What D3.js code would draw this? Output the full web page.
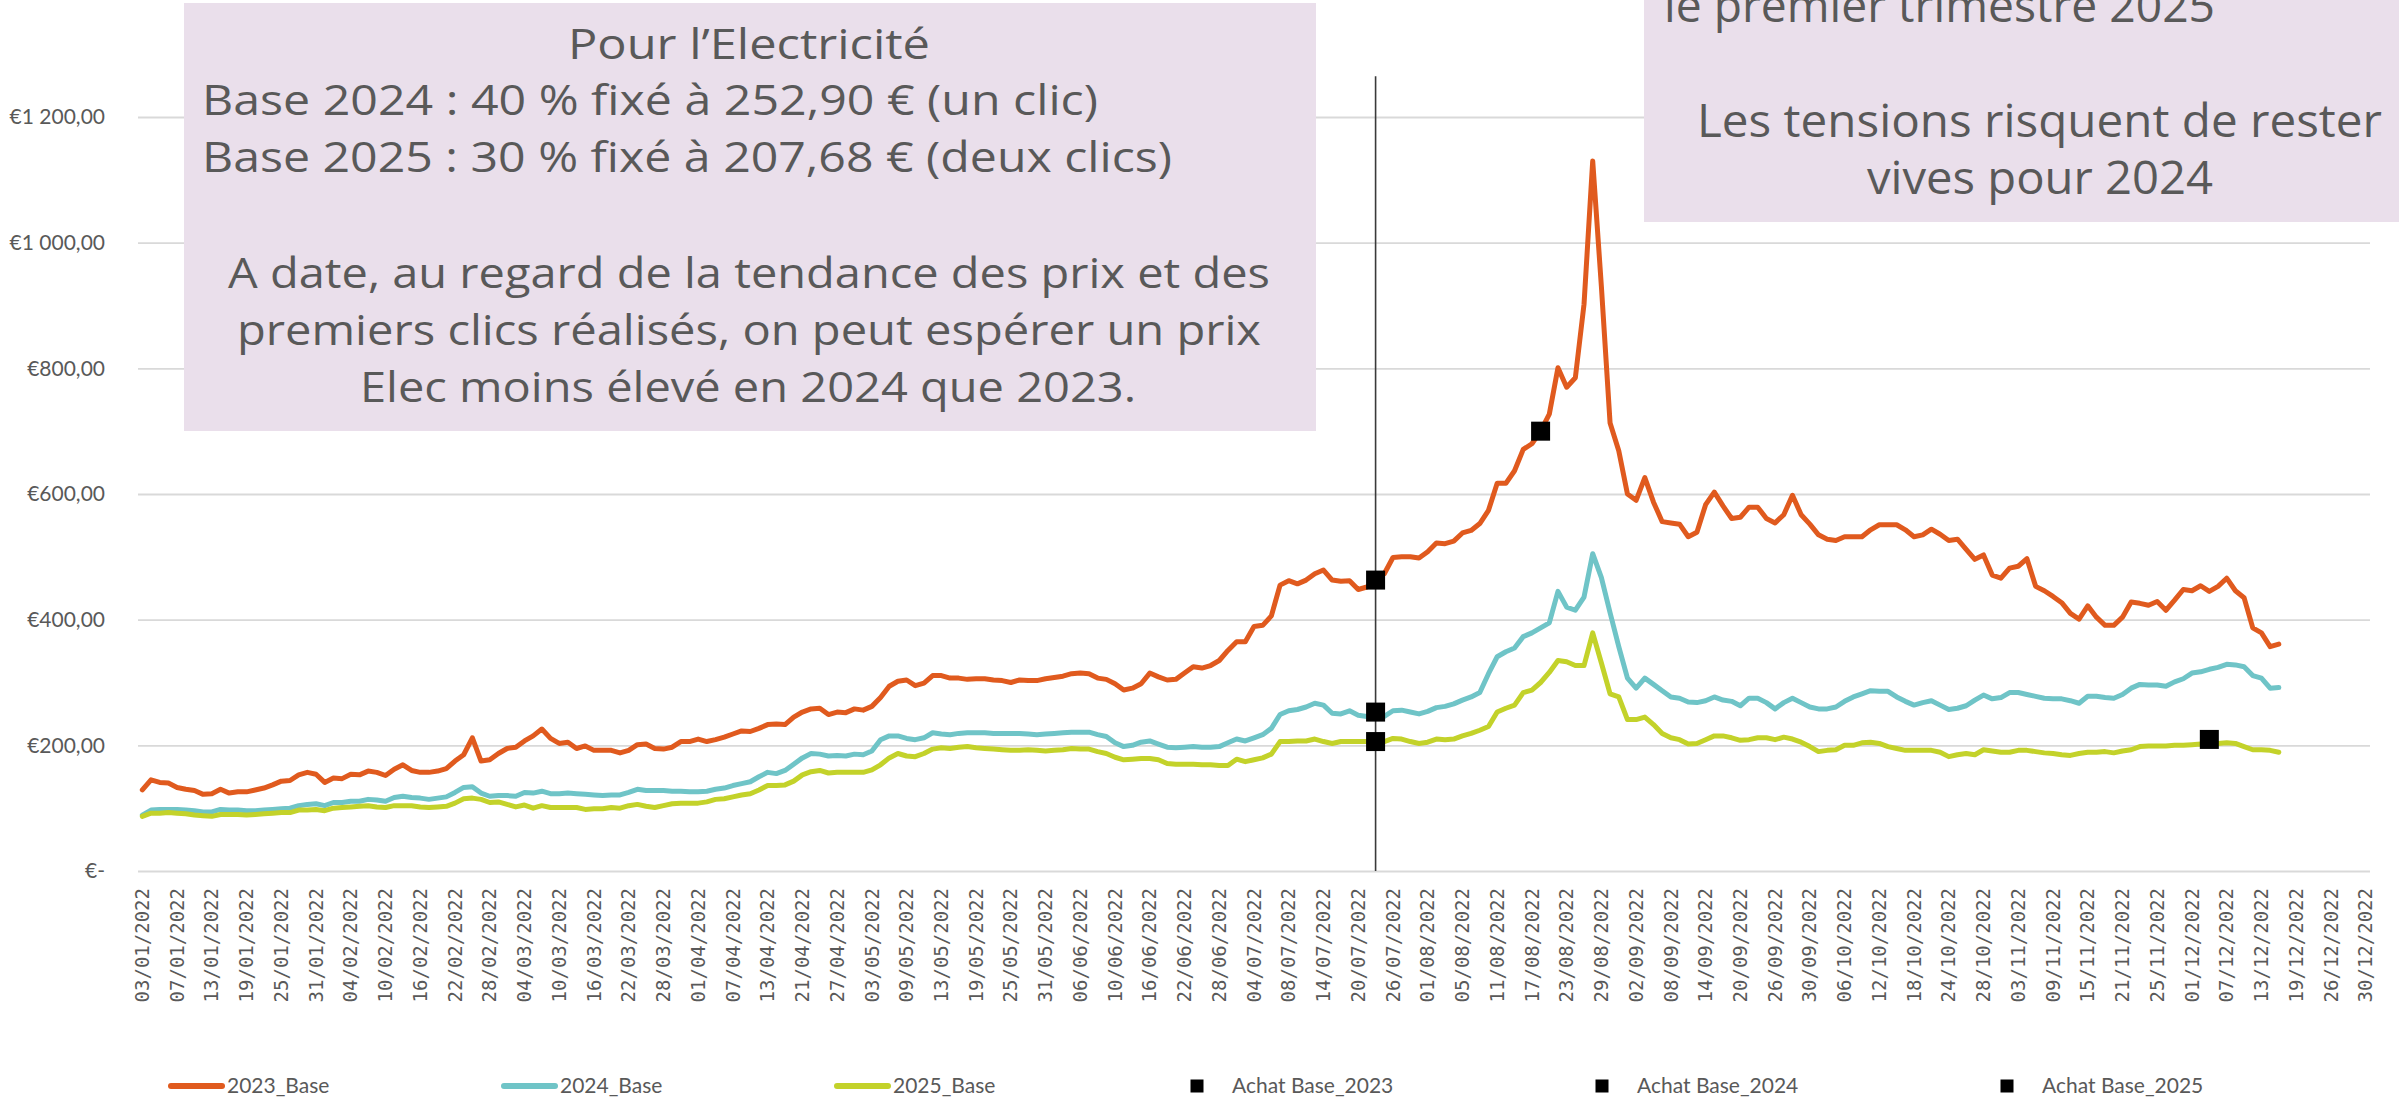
<!DOCTYPE html>
<html>
<head>
<meta charset="utf-8">
<script src="https://cdn.jsdelivr.net/npm/d3@7"></script>
<style>
  body { margin: 0; background: #fff; }
</style>
</head>
<body>
<div id="my_dataviz"></div>
<script>
/* global d3 */

// x axis: one category per trading day, a label every 4th one
const nCategories = 257;
const tickLabels = ["03/01/2022","07/01/2022","13/01/2022","19/01/2022","25/01/2022","31/01/2022","04/02/2022","10/02/2022","16/02/2022","22/02/2022","28/02/2022","04/03/2022","10/03/2022","16/03/2022","22/03/2022","28/03/2022","01/04/2022","07/04/2022","13/04/2022","21/04/2022","27/04/2022","03/05/2022","09/05/2022","13/05/2022","19/05/2022","25/05/2022","31/05/2022","06/06/2022","10/06/2022","16/06/2022","22/06/2022","28/06/2022","04/07/2022","08/07/2022","14/07/2022","20/07/2022","26/07/2022","01/08/2022","05/08/2022","11/08/2022","17/08/2022","23/08/2022","29/08/2022","02/09/2022","08/09/2022","14/09/2022","20/09/2022","26/09/2022","30/09/2022","06/10/2022","12/10/2022","18/10/2022","24/10/2022","28/10/2022","03/11/2022","09/11/2022","15/11/2022","21/11/2022","25/11/2022","01/12/2022","07/12/2022","13/12/2022","19/12/2022","26/12/2022","30/12/2022"];

// prices (€/MWh)
const base2023 = [129,145,141,140,133,130,128,122,123,130,124,126,126,129,132,137,143,144,153,157,154,141,148,147,154,153,159,157,152,162,169,160,157,157,159,163,175,185,212,175,177,187,195,197,207,215,226,211,203,205,195,199,192,192,
  192,188,192,201,202,195,194,197,206,206,210,206,209,213,218,223,222,227,233,234,233,245,253,258,259,249,253,252,258,256,262,276,294,302,304,295,299,311,311,307,307,305,306,306,304,303,300,304,303,303,306,308,310,314,315,
  314,307,305,298,288,291,298,315,309,304,305,315,325,323,327,335,351,365,365,389,391,406,455,462,457,463,473,479,463,461,462,448,452,463,473,499,500,500,498,508,522,521,525,538,542,553,574,
  617,617,637,671,680,700,727,801,770,785,902,1130,930,713,669,600,590,626,587,556,554,552,532,539,583,603,581,561,563,579,579,561,554,567,598,567,552,535,528,526,532,532,532,543,551,551,551,543,532,
  535,544,536,526,528,512,496,503,471,466,482,485,497,453,446,437,427,410,401,422,404,391,391,404,428,426,423,429,415,431,448,446,454,445,453,466,446,435,387,379,357,361];

const base2024 = [89,97,98,98,98,97,96,94,94,98,97,97,96,96,97,98,99,100,104,106,107,104,109,109,111,111,114,113,111,117,119,117,116,114,116,118,125,133,134,124,119,120,120,119,125,124,127,123,123,124,123,122,121,120,
  121,121,125,130,128,128,128,127,127,126,126,127,130,132,136,139,142,150,157,155,160,170,180,187,186,183,184,183,186,185,191,209,215,215,211,209,212,220,218,217,219,220,220,220,219,219,219,219,218,217,218,219,220,221,221,
  221,217,214,204,198,200,205,207,202,197,196,197,198,197,197,198,204,210,207,212,217,227,249,255,257,261,267,264,251,250,255,248,246,253,246,255,256,253,250,254,260,262,266,272,277,284,314,
  341,349,355,373,379,387,395,445,420,415,436,505,467,411,357,307,291,307,297,287,277,275,269,268,271,277,272,270,263,275,275,268,258,268,275,268,261,258,258,261,270,277,282,287,286,286,277,270,264,
  268,271,264,257,259,263,272,280,274,276,284,284,281,278,275,274,274,271,267,278,278,276,275,281,291,297,296,296,294,301,306,315,317,321,324,329,328,325,311,307,291,292];

const base2025 = [87,92,92,93,92,91,89,88,87,90,90,90,89,90,91,92,93,93,97,97,98,96,100,101,102,103,104,102,101,104,104,104,102,101,102,103,108,115,116,114,109,110,106,102,105,100,104,101,101,101,101,98,99,99,
  101,100,104,106,103,101,104,107,108,108,108,110,114,115,118,121,123,129,136,136,137,143,153,158,160,156,157,157,157,157,161,169,180,187,183,182,187,194,196,195,197,198,196,195,194,193,192,192,193,192,191,192,193,195,194,
  194,190,187,181,177,178,179,179,177,171,170,170,170,169,169,168,168,178,174,177,180,186,206,206,207,207,210,206,203,206,206,206,206,207,206,211,210,206,203,205,210,209,210,215,219,224,230,
  253,259,264,284,288,300,316,335,333,327,327,379,331,282,277,241,241,245,233,219,212,209,202,203,209,215,215,212,208,209,212,212,209,213,210,205,198,190,192,193,200,200,204,205,203,198,195,192,192,
  192,192,189,182,185,187,185,193,191,189,189,192,192,190,188,187,185,184,187,189,189,190,188,191,193,198,199,199,199,200,200,201,202,201,203,204,203,198,193,193,192,189];

// purchases ("clics"): [category index, price]
const achat2023 = [[142, 463], [161, 700]];
const achat2024 = [[142, 252.9]];
const achat2025 = [[142, 206], [238, 209.4]];

// day of the first clic, drawn as a vertical rule
const clicDay = 142;
const clicRuleTop = 1265;

const yTicks = [0, 200, 400, 600, 800, 1000, 1200];

const seriesNames = ["2023_Base", "2024_Base", "2025_Base"];
const achatNames = ["Achat Base_2023", "Achat Base_2024", "Achat Base_2025"];
const colors = ["#E05A1E", "#6FC4C7", "#C3D22A"];

const leftNote = ["Pour l’Electricité",
  "Base 2024 : 40 % fixé à 252,90 € (un clic)",
  "Base 2025 : 30 % fixé à 207,68 € (deux clics)",
  "A date, au regard de la tendance des prix et des",
  "premiers clics réalisés, on peut espérer un prix",
  "Elec moins élevé en 2024 que 2023."];
const rightNote = ["le premier trimestre 2025",
  "Les tensions risquent de rester",
  "vives pour 2024"];

// set the dimensions and margins of the graph
const W = 2399, H = 1097;
const margin = {top: 117, right: 29, bottom: 226, left: 138},
    width = W - margin.left - margin.right,
    height = H - margin.top - margin.bottom;

const root = d3.select("#my_dataviz")
  .append("svg")
    .attr("width", W)
    .attr("height", H)
    .style("display", "block")
    .style("background", "#fff");

const svg = root.append("g")
    .attr("transform", `translate(${margin.left}, ${margin.top})`);

const x = d3.scaleBand()
  .domain(d3.range(nCategories))
  .range([0, width]);
const cx = i => x(i) + x.bandwidth() / 2;

const y = d3.scaleLinear()
  .domain([0, 1200])
  .range([height, 0]);

const euro = d3.formatLocale({decimal: ",", thousands: " ", grouping: [3], currency: ["€", ""]}).format("$,.2f");

// Y axis + gridlines
const yAxis = svg.append("g")
  .call(d3.axisLeft(y)
    .tickValues(yTicks)
    .tickSize(-width)
    .tickPadding(33)
    .tickFormat(d => d === 0 ? "€-" : euro(d)));
yAxis.select(".domain").remove();
yAxis.selectAll(".tick line")
  .attr("stroke", "#d9d9d9")
  .attr("stroke-width", 1.8);
yAxis.selectAll("text")
  .style("font-family", "Lato, 'Liberation Sans', sans-serif")
  .style("font-size", "21px")
  .style("fill", "#595959");

// X axis labels
const xAxis = svg.append("g")
  .attr("transform", `translate(0, ${height})`)
  .call(d3.axisBottom(x)
    .tickValues(d3.range(0, nCategories, 4))
    .tickSize(0)
    .tickFormat(d => tickLabels[d / 4]));
xAxis.select(".domain").remove();
xAxis.selectAll("text")
  .attr("transform", "rotate(-90)")
  .attr("x", -17)
  .attr("y", 0)
  .attr("dy", "0.35em")
  .style("text-anchor", "end")
  .style("font-family", "'DejaVu Sans Mono', monospace")
  .style("font-size", "19px")
  .style("fill", "#595959");

// vertical rule
svg.append("line")
  .attr("x1", cx(clicDay))
  .attr("x2", cx(clicDay))
  .attr("y1", y(clicRuleTop))
  .attr("y2", y(0))
  .attr("stroke", "#3a3a3a")
  .attr("stroke-width", 1.6);

// Lines
const line = d3.line()
  .x((d, i) => cx(i))
  .y(d => y(d));

svg.selectAll("path.series")
  .data([base2023, base2024, base2025])
  .join("path")
    .attr("class", "series")
    .attr("d", line)
    .attr("fill", "none")
    .attr("stroke", (d, i) => colors[i])
    .attr("stroke-width", 5)
    .attr("stroke-linejoin", "round")
    .attr("stroke-linecap", "round");

// purchase markers
const mk = 19;
svg.selectAll("rect.achat")
  .data([...achat2023, ...achat2024, ...achat2025])
  .join("rect")
    .attr("class", "achat")
    .attr("x", d => cx(d[0]) - mk / 2)
    .attr("y", d => y(d[1]) - mk / 2)
    .attr("width", mk)
    .attr("height", mk)
    .attr("fill", "#000");

// notes
function note(box, lines, pos, size) {
  root.append("rect")
    .attr("x", box[0]).attr("y", box[1])
    .attr("width", box[2]).attr("height", box[3])
    .attr("fill", "#EADFEB");
  root.selectAll(null)
    .data(lines)
    .join("text")
      .attr("x", (d, i) => pos[i][0])
      .attr("y", (d, i) => pos[i][1])
      .attr("textLength", (d, i) => pos[i][2])
      .attr("lengthAdjust", "spacingAndGlyphs")
      .style("font-family", "'Open Sans', sans-serif")
      .style("font-size", size + "px")
      .style("fill", "#595959")
      .text(d => d);
}
note([184, 3, 1132, 428], leftNote,
  [[568, 59, 362], [202, 115, 896], [202, 172, 970], [228, 288, 1042], [237, 345, 1024], [360, 402, 776]], 42);
note([1644, -10, 800, 232], rightNote,
  [[1664, 22, 551], [1697, 137, 685], [1867, 194, 346]], 45);

// legend
const legY = 1086;
const leg = root.append("g").style("font-family", "Lato, sans-serif").style("font-size", "21px");
seriesNames.forEach((name, i) => {
  const x0 = 168 + i * 333;
  leg.append("line")
    .attr("x1", x0 + 3).attr("x2", x0 + 54)
    .attr("y1", legY).attr("y2", legY)
    .attr("stroke", colors[i])
    .attr("stroke-width", 6)
    .attr("stroke-linecap", "round");
  leg.append("text")
    .attr("x", x0 + 59).attr("y", legY + 7)
    .style("fill", "#595959")
    .text(name);
});
achatNames.forEach((name, i) => {
  const x0 = 1197 + i * 405;
  leg.append("rect")
    .attr("x", x0 - 6.5).attr("y", legY - 6.5)
    .attr("width", 13).attr("height", 13)
    .attr("fill", "#000");
  leg.append("text")
    .attr("x", x0 + 35).attr("y", legY + 7)
    .style("fill", "#595959")
    .text(name);
});
</script>
</body>
</html>
